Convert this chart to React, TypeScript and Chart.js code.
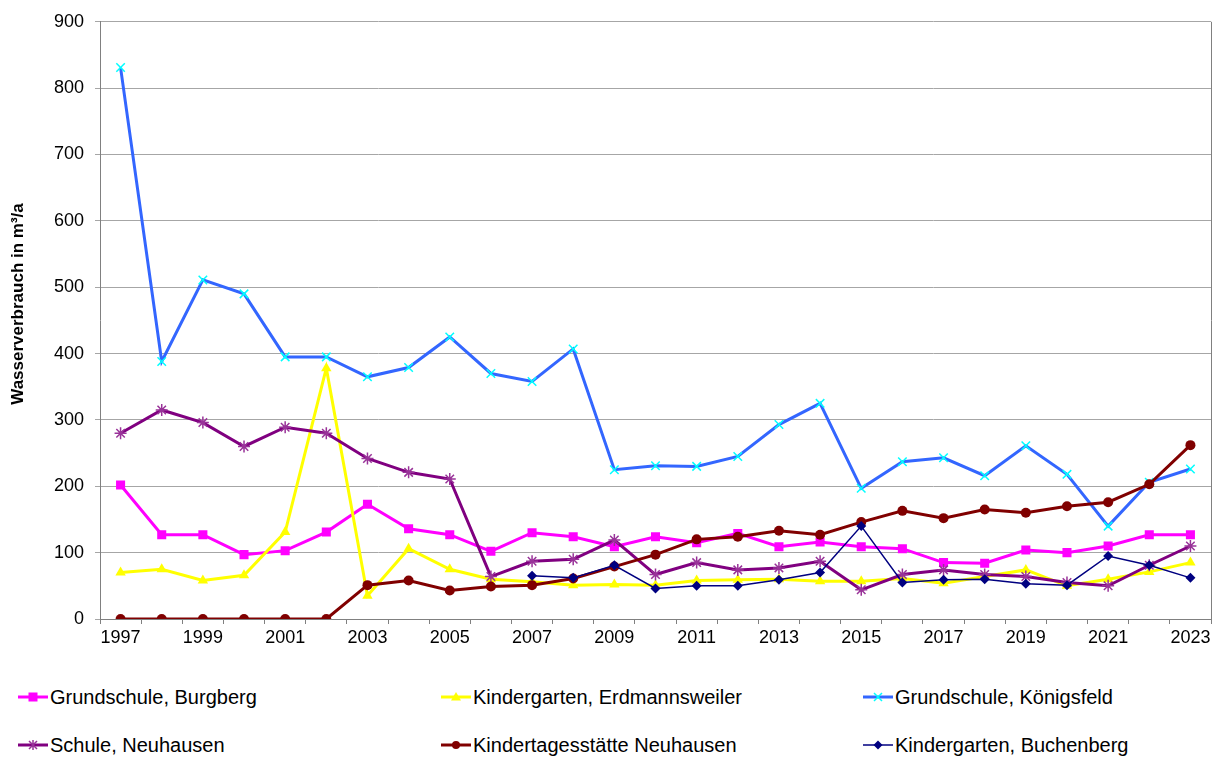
import React, { useEffect, useRef } from "react";
import { Chart, registerables } from "chart.js";

Chart.register(...registerables);

const FONT = "'Liberation Sans', Arial, sans-serif";

const years = [
  "1997", "1998", "1999", "2000", "2001", "2002", "2003", "2004", "2005",
  "2006", "2007", "2008", "2009", "2010", "2011", "2012", "2013", "2014",
  "2015", "2016", "2017", "2018", "2019", "2020", "2021", "2022", "2023",
];

const burgberg = [202, 127, 127, 97, 103, 131, 173, 136, 127, 102, 130, 124, 109, 124, 115, 129, 109, 116, 109, 106, 85, 84, 104, 100, 110, 127, 127];
const erdmannsweiler = [70, 75, 58, 66, 131, 378, 35, 106, 75, 60, 56, 51, 52, 51, 58, 59, 60, 57, 57, 61, 54, 64, 74, 50, 60, 71, 85];
const koenigsfeld = [831, 388, 511, 490, 395, 395, 365, 379, 425, 370, 358, 407, 225, 231, 230, 245, 293, 325, 197, 237, 243, 216, 261, 218, 140, 206, 226];
const schuleNeuhausen = [280, 315, 296, 260, 289, 280, 242, 221, 211, 64, 87, 90, 119, 67, 85, 74, 77, 87, 44, 67, 74, 67, 64, 55, 50, 81, 110];
const kitaNeuhausen = [0, 0, 0, 0, 0, 0, 51, 58, 43, 49, 51, 61, 79, 97, 120, 124, 133, 127, 146, 163, 152, 165, 160, 170, 176, 203, 262];
const buchenberg = [null, null, null, null, null, null, null, null, null, null, 65, 62, 81, 46, 50, 50, 59, 70, 140, 55, 59, 60, 53, 51, 95, 81, 62];

const yTitle = "Wasserverbrauch in m³/a";

type Series = {
  label: string;
  data: (number | null)[];
  line: string;
  marker: string;
  style: string;
  radius: number;
  width: number;
  fill: boolean;
};

const series: Series[] = [
  { label: "Grundschule, Burgberg", data: burgberg, line: "#FF00FF", marker: "#FF00FF", style: "rect", radius: 6.4, width: 3, fill: true },
  { label: "Kindergarten, Erdmannsweiler", data: erdmannsweiler, line: "#FFFF00", marker: "#FFFF00", style: "triangle", radius: 6, width: 3, fill: true },
  { label: "Grundschule, Königsfeld", data: koenigsfeld, line: "#3366FF", marker: "#00FFFF", style: "crossRot", radius: 6, width: 3, fill: false },
  { label: "Schule, Neuhausen", data: schuleNeuhausen, line: "#800080", marker: "#993399", style: "star", radius: 6, width: 3, fill: false },
  { label: "Kindertagesstätte Neuhausen", data: kitaNeuhausen, line: "#800000", marker: "#800000", style: "circle", radius: 5, width: 3, fill: true },
  { label: "Kindergarten, Buchenberg", data: buchenberg, line: "#000080", marker: "#000080", style: "rectRot", radius: 5, width: 1.5, fill: true },
];

const legendLayout = [
  { idx: 0, x: 18, y: 697 },
  { idx: 1, x: 441, y: 697 },
  { idx: 2, x: 863, y: 697 },
  { idx: 3, x: 18, y: 745 },
  { idx: 4, x: 441, y: 745 },
  { idx: 5, x: 863, y: 745 },
];

const extrasPlugin = {
  id: "extras",
  afterDraw(chart: any) {
    const { ctx, chartArea } = chart;
    ctx.save();
    ctx.strokeStyle = "#808080";
    ctx.lineWidth = 1;
    ctx.beginPath();
    ctx.moveTo(Math.round(chartArea.right) + 0.5, chartArea.top);
    ctx.lineTo(Math.round(chartArea.right) + 0.5, chartArea.bottom);
    ctx.stroke();
    ctx.translate(18, 304);
    ctx.rotate(-Math.PI / 2);
    ctx.fillStyle = "#000";
    ctx.font = `bold 17px ${FONT}`;
    ctx.textAlign = "center";
    ctx.textBaseline = "middle";
    ctx.fillText(yTitle, 0, 0);
    ctx.restore();
  },
};

function Marker({ s }: { s: Series }) {
  const cx = 15, cy = 8;
  let shape: React.ReactNode = null;
  if (s.style === "rect") shape = <rect x={cx - 4.5} y={cy - 4.5} width={9} height={9} fill={s.marker} />;
  else if (s.style === "triangle") shape = <polygon points={`${cx},${cy - 5} ${cx + 5},${cy + 3.5} ${cx - 5},${cy + 3.5}`} fill={s.marker} />;
  else if (s.style === "crossRot") shape = <path d={`M${cx - 4},${cy - 4}L${cx + 4},${cy + 4}M${cx + 4},${cy - 4}L${cx - 4},${cy + 4}`} stroke={s.marker} strokeWidth={1.5} />;
  else if (s.style === "star") shape = <path d={`M${cx - 4},${cy - 4}L${cx + 4},${cy + 4}M${cx + 4},${cy - 4}L${cx - 4},${cy + 4}M${cx},${cy - 5}L${cx},${cy + 5}`} stroke={s.marker} strokeWidth={1.5} />;
  else if (s.style === "circle") shape = <circle cx={cx} cy={cy} r={4} fill={s.marker} />;
  else if (s.style === "rectRot") shape = <polygon points={`${cx},${cy - 4.5} ${cx + 4.5},${cy} ${cx},${cy + 4.5} ${cx - 4.5},${cy}`} fill={s.marker} />;
  return (
    <svg width={30} height={16} style={{ display: "block" }}>
      <line x1={0} y1={cy} x2={30} y2={cy} stroke={s.line} strokeWidth={s.width} />
      {shape}
    </svg>
  );
}

export default function App() {
  const ref = useRef<HTMLCanvasElement | null>(null);

  useEffect(() => {
    if (!ref.current) return;
    const chart = new Chart(ref.current, {
      type: "line",
      data: {
        labels: years,
        datasets: series.map((s, i) => ({
          label: s.label,
          data: s.data,
          borderColor: s.line,
          backgroundColor: s.marker,
          borderWidth: s.width,
          pointStyle: s.style as any,
          pointRadius: s.radius,
          pointBackgroundColor: s.fill ? s.marker : "transparent",
          pointBorderColor: s.marker,
          pointBorderWidth: s.fill ? 0 : 1.5,
          tension: 0,
          fill: false,
          spanGaps: false,
          order: series.length - i,
        })),
      },
      options: {
        animation: false,
        responsive: false,
        maintainAspectRatio: false,
        events: [],
        layout: { padding: { top: 20, right: 16, left: 0, bottom: 0 } },
        plugins: { legend: { display: false }, tooltip: { enabled: false }, title: { display: false } },
        scales: {
          x: {
            type: "category",
            offset: true,
            grid: { offset: true, drawOnChartArea: false, drawTicks: true, tickLength: 5, color: "#808080" },
            border: { color: "#808080", width: 1 },
            ticks: {
              autoSkip: false,
              maxRotation: 0,
              padding: 3,
              color: "#000",
              font: { family: FONT, size: 18 },
              callback: (_v: any, i: number) => (i % 2 === 0 ? years[i] : ""),
            },
            afterFit: (s: any) => { s.height = 40; },
          },
          y: {
            min: 0,
            max: 900,
            grid: { color: "#a6a6a6", tickLength: 5, drawTicks: true },
            border: { color: "#808080", width: 1 },
            ticks: { stepSize: 100, padding: 11, color: "#000", font: { family: FONT, size: 18 } },
            afterFit: (s: any) => { s.width = 100; },
          },
        },
      },
      plugins: [extrasPlugin],
    });
    return () => chart.destroy();
  }, []);

  return (
    <div style={{ position: "absolute", left: 0, top: 0, width: 1227, height: 758, background: "#fff", fontFamily: FONT }}>
      <canvas ref={ref} width={1227} height={659} style={{ position: "absolute", left: 0, top: 0, width: 1227, height: 659 }} />
      {legendLayout.map(({ idx, x, y }) => (
        <div key={idx} style={{ position: "absolute", left: x, top: y - 12, height: 24, display: "flex", alignItems: "center", whiteSpace: "nowrap" }}>
          <Marker s={series[idx]} />
          <span style={{ fontSize: 20, color: "#000", marginLeft: 2, lineHeight: "24px" }}>{series[idx].label}</span>
        </div>
      ))}
    </div>
  );
}
